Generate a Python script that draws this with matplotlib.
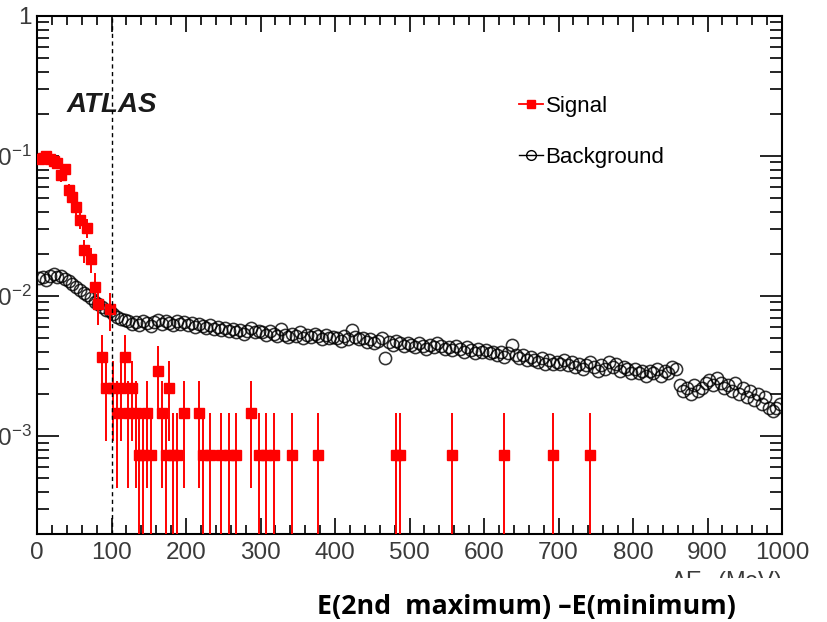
import matplotlib
matplotlib.use("Agg")
import matplotlib.pyplot as plt
from matplotlib.lines import Line2D
from matplotlib.patches import Rectangle
import numpy as np

plt.rcParams['font.family'] = ['Liberation Sans', 'DejaVu Sans']
plt.rcParams['mathtext.default'] = 'regular'

# ---- data ----
bin_width = 5.0  # MeV

# signal: non-empty bins (bin centres, MeV) and entries; one entry = signal_unit
signal_centers = [2.5, 7.5, 12.5, 17.5, 22.5, 27.5, 32.5, 37.5, 42.5, 47.5,
                  52.5, 57.5, 62.5, 67.5, 72.5, 77.5, 82.5, 87.5, 92.5, 97.5,
                  102.5, 107.5, 112.5, 117.5, 122.5, 127.5, 132.5, 137.5, 142.5, 147.5,
                  152.5, 162.5, 167.5, 172.5, 177.5, 182.5, 187.5, 197.5, 217.5, 222.5,
                  232.5, 247.5, 257.5, 267.5, 287.5, 297.5, 307.5, 317.5, 342.5, 377.5,
                  482.5, 487.5, 557.5, 627.5, 692.5, 742.5]
signal_counts = [130, 133, 137, 130, 127, 123, 100, 110, 78, 70,
                 59, 48, 29, 42, 25, 16, 12, 5, 3, 11,
                 3, 2, 3, 5, 2, 3, 2, 1, 1, 2,
                 1, 4, 2, 1, 3, 1, 1, 2, 2, 1,
                 1, 1, 1, 1, 2, 1, 1, 1, 1, 1,
                 1, 1, 1, 1, 1, 1]
signal_unit = 7.3e-4

# background: 200 bins of 5 MeV from 0 to 1000 MeV
background = [
    0.0134, 0.0137, 0.0131, 0.0140, 0.0143, 0.0136, 0.0139, 0.0132, 0.0128, 0.0121,
    0.0117, 0.0110, 0.0106, 0.0101, 0.0097, 0.0091, 0.0088, 0.0084, 0.0080, 0.0078,
    0.0074, 0.0071, 0.0069, 0.0067, 0.0066, 0.0063, 0.0065, 0.0062, 0.0066, 0.0064,
    0.0061, 0.0065, 0.0067, 0.0063, 0.0066, 0.0064, 0.0062, 0.0066, 0.0063, 0.0065,
    0.0062, 0.0064, 0.0060, 0.0063, 0.0061, 0.0059, 0.0062, 0.0058, 0.0060, 0.0057,
    0.0059, 0.0056, 0.0058, 0.0055, 0.0057, 0.0054, 0.0056, 0.0059, 0.0055, 0.0056,
    0.0055, 0.0053, 0.0056, 0.0054, 0.0052, 0.0058, 0.0053, 0.0051, 0.0054, 0.0052,
    0.0055, 0.0050, 0.0053, 0.0051, 0.0054, 0.0052, 0.0049, 0.0053, 0.0050, 0.0051,
    0.0050, 0.0048, 0.0052, 0.0049, 0.0057, 0.0051, 0.0049, 0.0050, 0.0047, 0.0049,
    0.0046, 0.0048, 0.0050, 0.0036, 0.0047, 0.0045, 0.0048, 0.0046, 0.0044, 0.0046,
    0.0045, 0.0043, 0.0046, 0.0044, 0.0042, 0.0045, 0.0043, 0.0046, 0.0044, 0.0042,
    0.0043, 0.0041, 0.0044, 0.0042, 0.0040, 0.0043, 0.0041, 0.0039, 0.0042, 0.0040,
    0.0041, 0.0039, 0.0040, 0.0038, 0.0040, 0.0037, 0.0039, 0.0045, 0.0038, 0.0036,
    0.0038, 0.0035, 0.0037, 0.0035, 0.0034, 0.0036, 0.0033, 0.0035, 0.0033, 0.0034,
    0.0033, 0.0035, 0.0032, 0.0034, 0.0031, 0.0033, 0.0030, 0.0032, 0.0034, 0.0031,
    0.0029, 0.0032, 0.0030, 0.0034, 0.0031, 0.0033, 0.0029, 0.0031, 0.0030, 0.0028,
    0.0030, 0.0028, 0.0029, 0.0027, 0.0029, 0.0028, 0.0030, 0.0027, 0.0029, 0.0028,
    0.0031, 0.0030, 0.0023, 0.0021, 0.0022, 0.0020, 0.0023, 0.0021, 0.0022, 0.0024,
    0.0025, 0.0023, 0.0026, 0.0024, 0.0022, 0.0023, 0.0021, 0.0024, 0.0020, 0.0022,
    0.0019, 0.0021, 0.0018, 0.0020, 0.0017, 0.0019, 0.0016, 0.0015, 0.0016, 0.0017,
]

y_ticks = [1e-3, 1e-2, 1e-1, 1]
y_ticklabels = ['$10^{-3}$', '$10^{-2}$', '$10^{-1}$', '1']
x_ticks = [0, 100, 200, 300, 400, 500, 600, 700, 800, 900, 1000]
cut_value = 100

# ---- plot ----
fig = plt.figure(figsize=(8.27, 6.22), dpi=100)
ax = fig.add_axes([37 / 827, 88 / 622, 745 / 827, 518 / 622])

bkg_x = np.arange(len(background)) * bin_width + bin_width / 2
ax.plot(bkg_x, background, 'o', mfc='none', mec='black', ms=8.8, mew=1.15,
        alpha=0.8, zorder=2)

sig = np.array(signal_counts) * signal_unit
sig_err = np.sqrt(signal_counts) * signal_unit
low_err = np.minimum(sig_err, sig - 1e-7)
ax.errorbar(signal_centers, sig, yerr=[low_err, sig_err], xerr=bin_width / 2,
            fmt='s', color='#ff0000', ms=6.5, elinewidth=1.4, capsize=0, zorder=3)

ax.axvline(cut_value, color='black', ls=(0, (3, 2.5)), lw=1.0, zorder=4)

ax.set_yscale('log')
ax.set_xlim(0, 1000)
ax.set_ylim(2e-4, 1)
ax.set_xticks(x_ticks)
ax.set_xticks(np.arange(0, 1001, 20), minor=True)
ax.set_yticks(y_ticks)
ax.set_yticklabels(y_ticklabels)
ax.tick_params(which='both', direction='in', top=True, right=True, width=1.2,
               labelsize=17.5, labelcolor='#3a3a3a')
ax.tick_params(axis='x', which='major', length=11.5, pad=6)
ax.tick_params(axis='x', which='minor', length=6.5)
ax.tick_params(axis='y', which='major', length=16, pad=4)
ax.tick_params(axis='y', which='minor', length=8.6)
for s in ax.spines.values():
    s.set_linewidth(1.5)

ax.text(0.04, 0.815, 'ATLAS', transform=ax.transAxes, fontsize=20,
        fontweight='bold', fontstyle='italic', color='#1a1a1a')

handles = [Line2D([], [], color='#ff0000', marker='s', ms=6.2, lw=1.3),
           Line2D([], [], color='black', marker='o', mfc='none', ms=7, lw=1.0)]
ax.legend(handles, ['Signal', 'Background'], loc='upper left',
          bbox_to_anchor=(0.62, 0.885), frameon=False, fontsize=16,
          handlelength=1.1, handletextpad=0.1, labelspacing=1.35)

# axis title, mostly hidden below by the slide
fig.text(782 / 827, 0.085, 'ΔE$_{s}$ (MeV)', ha='right', va='top',
         fontsize=17, color='#3a3a3a', zorder=0.5)
fig.add_artist(Rectangle((0, 0), 1, 44 / 622, transform=fig.transFigure,
                         facecolor='white', edgecolor='none', zorder=1))
fig.text(526 / 827, 15 / 622, 'E(2nd  maximum) \u2013E(minimum)', ha='center',
         va='center', fontsize=19.3, fontweight='bold', family='Open Sans',
         zorder=5)

fig.savefig('out.png', dpi=100)
